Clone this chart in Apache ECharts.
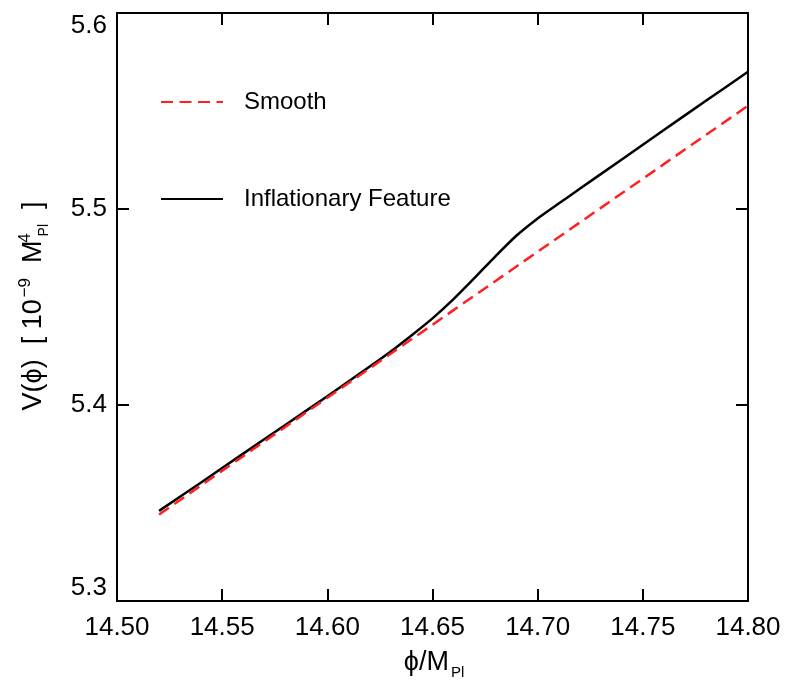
<!DOCTYPE html>
<html>
<head>
<meta charset="utf-8">
<script src="https://cdn.jsdelivr.net/npm/echarts@6/dist/echarts.min.js"></script>
<style>
  html, body { margin: 0; padding: 0; background: #fff; }
  #container { width: 791px; height: 686px; }
</style>
</head>
<body>
<div id="container"></div>
<script>
// smooth potential (red dashed)
var phiSmooth = [14.52, 14.54, 14.56, 14.58, 14.60, 14.62, 14.64, 14.66, 14.68, 14.70, 14.72, 14.74, 14.76, 14.78, 14.80];
var vSmooth   = [5.3441, 5.3590, 5.3739, 5.3888, 5.4037, 5.4186, 5.4335, 5.4484, 5.4633, 5.4782, 5.4931, 5.5080, 5.5229, 5.5378, 5.5527];

// potential with the feature (black solid)
var phiFeature = [14.52, 14.54, 14.56, 14.58, 14.60, 14.62, 14.63, 14.64, 14.65, 14.66, 14.67, 14.68, 14.69, 14.70, 14.71, 14.72, 14.74, 14.76, 14.78, 14.80];
var vFeature   = [5.3460, 5.3605, 5.3752, 5.3898, 5.4045, 5.4195, 5.4272, 5.4355, 5.4442, 5.4540, 5.4648, 5.4760, 5.4865, 5.4952, 5.5028, 5.5103, 5.5253, 5.5403, 5.5552, 5.5700];

var seriesNames = ['Smooth', 'Inflationary Feature'];

function pairs(xs, ys) {
	var res = [];
	for (var i = 0; i < xs.length; i++) {
		res.push([xs[i], ys[i]]);
	}
	return res;
}

var FONT = '"Liberation Sans", Arial, sans-serif';

var tickStyle = { show: true, inside: true, length: 12, lineStyle: { color: '#000', width: 2 } };
var lineStyle = { show: true, lineStyle: { color: '#000', width: 2 } };

var option = {
	backgroundColor: '#fff',
	animation: false,
	grid: { left: 117, right: 43, top: 13, bottom: 85 },
	legend: {
		orient: 'vertical',
		left: 160,
		top: 90,
		padding: 0,
		itemWidth: 62,
		itemHeight: 24,
		itemGap: 73,
		itemStyle: { opacity: 0 },
		data: seriesNames,
		textStyle: { fontFamily: FONT, fontSize: 24, color: '#000', padding: [0, 0, 0, 16] }
	},
	xAxis: [{
		type: 'value',
		min: 14.5, max: 14.8, interval: 0.05,
		axisLine: lineStyle,
		axisTick: tickStyle,
		splitLine: { show: false },
		axisLabel: {
			fontFamily: FONT, fontSize: 26, color: '#000', margin: 14,
			formatter: function (v) { return v.toFixed(2); }
		}
	}, {
		type: 'value', position: 'top',
		min: 14.5, max: 14.8, interval: 0.05,
		axisLine: lineStyle,
		axisTick: tickStyle,
		splitLine: { show: false },
		axisLabel: { show: false }
	}],
	yAxis: [{
		type: 'value',
		min: 5.3, max: 5.6, interval: 0.1,
		axisLine: lineStyle,
		axisTick: tickStyle,
		splitLine: { show: false },
		axisLabel: {
			fontFamily: FONT, fontSize: 26, color: '#000', margin: 10,
			verticalAlignMaxLabel: 'top',
			verticalAlignMinLabel: 'bottom',
			formatter: function (v) { return v.toFixed(1); }
		}
	}, {
		type: 'value', position: 'right',
		min: 5.3, max: 5.6, interval: 0.1,
		axisLine: lineStyle,
		axisTick: tickStyle,
		splitLine: { show: false },
		axisLabel: { show: false }
	}],
	series: [{
		name: seriesNames[0],
		type: 'line',
		symbol: 'none',
		data: pairs(phiSmooth, vSmooth),
		lineStyle: { color: '#ff2020', width: 2.5, type: [12, 6.5] },
		itemStyle: { color: '#ff2020' },
		z: 3
	}, {
		name: seriesNames[1],
		type: 'line',
		symbol: 'none',
		smooth: 0.2,
		data: pairs(phiFeature, vFeature),
		lineStyle: { color: '#000', width: 2.5 },
		itemStyle: { color: '#000' },
		z: 2
	}],
	graphic: [
		// x axis title: phi / M_Pl
		{
			type: 'text', x: 434, y: 663,
			style: {
				text: '{m|ϕ/M}{sub|Pl}',
				align: 'center', verticalAlign: 'middle',
				rich: {
					m: { font: '27px ' + FONT, fill: '#000', lineHeight: 34, verticalAlign: 'middle' },
					sub: { font: '15px ' + FONT, fill: '#000', lineHeight: 15, verticalAlign: 'bottom', padding: [0, 0, 0, 2] }
				}
			}
		},
		// y axis title: V(phi) [10^-9 M_Pl^4], rotated
		{
			type: 'text', x: 34, y: 306, rotation: Math.PI / 2,
			style: {
				text: '{m|V(ϕ)  [ 10}{sup|−9}{m|  M}{s4|4}{sub|Pl}{m|  ]}',
				align: 'center', verticalAlign: 'middle',
				rich: {
					m: { font: '27px ' + FONT, fill: '#000', lineHeight: 34, verticalAlign: 'middle' },
					sup: { font: '17px ' + FONT, fill: '#000', lineHeight: 17, verticalAlign: 'top', padding: [0, 0, 0, 2] },
					s4: { font: '17px ' + FONT, fill: '#000', lineHeight: 17, verticalAlign: 'top', width: 1, padding: [0, 0, 0, 2] },
					sub: { font: '14px ' + FONT, fill: '#000', lineHeight: 14, verticalAlign: 'bottom', padding: [0, 0, 0, 1] }
				}
			}
		}
	]
};

var myChart = echarts.init(document.getElementById('container'));
myChart.setOption(option);
</script>
</body>
</html>
